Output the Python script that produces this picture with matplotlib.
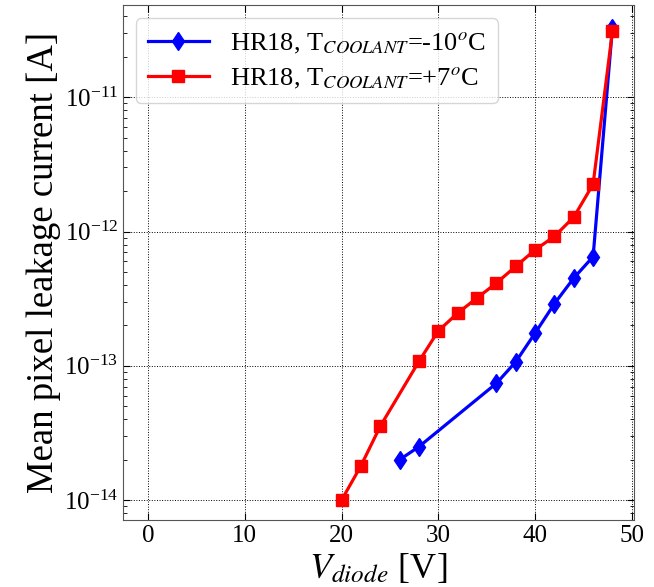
import numpy as np
import matplotlib
matplotlib.use("Agg")
import matplotlib.pyplot as plt
from matplotlib.ticker import NullFormatter

plt.rcParams['font.family'] = ['Liberation Serif', 'DejaVu Serif']
plt.rcParams['mathtext.fontset'] = 'stix'

# data
v_cold = [26, 28, 36, 38, 40, 42, 44, 46, 48]
i_cold = [2.0e-14, 2.5e-14, 7.4e-14, 1.07e-13, 1.75e-13, 2.9e-13, 4.5e-13, 6.5e-13, 3.3e-11]
v_warm = [20, 22, 24, 28, 30, 32, 34, 36, 38, 40, 42, 44, 46, 48]
i_warm = [1.0e-14, 1.8e-14, 3.55e-14, 1.08e-13, 1.82e-13, 2.47e-13, 3.2e-13, 4.13e-13,
          5.5e-13, 7.3e-13, 9.2e-13, 1.28e-12, 2.25e-12, 3.1e-11]
lab_cold = r'HR18, T$_{COOLANT}$=-10$^{o}$C'
lab_warm = r'HR18, T$_{COOLANT}$=+7$^{o}$C'

fig = plt.figure(figsize=(6.54, 5.87), dpi=100)
ax = fig.add_axes([0.188, 0.114, 0.781, 0.877])

ax.plot(v_cold, i_cold, color='blue', marker='d', markersize=9.5, lw=2.3, label=lab_cold)
ax.plot(v_warm, i_warm, color='red', marker='s', markersize=8.5, lw=2.3, label=lab_warm)

ax.set_yscale('log')
ax.set_xlim(-2.6, 50.2)
ax.set_ylim(7.1e-15, 4.84e-11)
ax.set_xticks([0, 10, 20, 30, 40, 50])
ax.yaxis.set_minor_formatter(NullFormatter())
ax.tick_params(which='both', direction='in', top=True, right=True, labelsize=18)
ax.tick_params(which='major', length=5)
ax.tick_params(which='minor', length=3)
ax.grid(True, which='major', color='black', linestyle=':', lw=0.7)
for s in ax.spines.values():
    s.set_color('#555555')

ax.set_xlabel(r'$V_{diode}$ [V]', fontsize=26)
ax.set_ylabel('Mean pixel leakage current [A]', fontsize=26.5, labelpad=2)
ax.legend(loc='upper left', fontsize=19, handlelength=2.3, borderpad=0.45,
          labelspacing=0.4, fancybox=True, framealpha=0.8)

fig.savefig('out.png', dpi=100)
